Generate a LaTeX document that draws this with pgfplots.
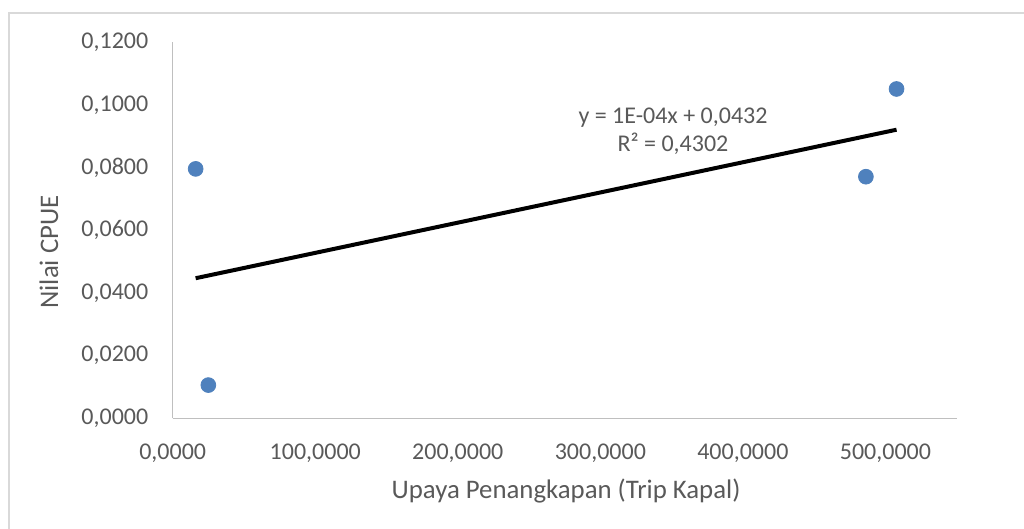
\documentclass[border=0pt]{standalone}
\usepackage{pgfplots}
\pgfplotsset{compat=1.18}
\usepackage{pgfplotstable}
\usepackage{fontspec}
\setmainfont{Carlito}

\definecolor{ptblue}{HTML}{4F81BD}
\definecolor{txtgray}{HTML}{595959}
\definecolor{axgray}{HTML}{BFBFBF}
\definecolor{framegray}{HTML}{D9D9D9}

% upaya (trip kapal) vs nilai CPUE
\pgfplotstableread{
x y
16.1 0.0796
25.0 0.0106
486.3 0.0771
507.8 0.1051
}\cpue

\begin{document}
\begin{tikzpicture}
\useasboundingbox (0,0) rectangle (512pt,264.5pt);
\draw[framegray, line width=0.75pt] (4.5pt,-5pt) rectangle (520pt,258pt);
\begin{axis}[
    at={(86.35pt,55.35pt)}, anchor=south west,
    scale only axis, width=392pt, height=188pt,
    xmin=0, xmax=550, ymin=0, ymax=0.12,
    axis lines*=left,
    axis line style={axgray, line width=0.75pt},
    xtick={0,100,200,300,400,500},
    ytick={0,0.02,0.04,0.06,0.08,0.1,0.12},
    major tick length=0pt,
    tick label style={font=\fontsize{12}{14}\selectfont, text=txtgray},
    /pgf/number format/fixed,
    /pgf/number format/fixed zerofill,
    /pgf/number format/precision=4,
    /pgf/number format/use comma,
    /pgf/number format/1000 sep={},
    /pgf/number format/assume math mode=true,
    yticklabel style={anchor=east, inner sep=0pt, xshift=-12pt},
    xticklabel style={anchor=north, inner sep=0pt, yshift=-12.5pt},
    xlabel={Upaya Penangkapan (Trip Kapal)},
    ylabel={Nilai CPUE},
    label style={font=\fontsize{13.4}{16}\selectfont, text=txtgray},
    xlabel style={at={(axis description cs:0.5017,-0.193)}, anchor=center},
    ylabel style={at={(axis description cs:-0.158,0.4423)}, anchor=center},
    clip=false,
]
\addplot[only marks, mark=*, mark size=3.7pt, mark options={fill=ptblue, draw=ptblue}] table {\cpue};
\addplot[black, line width=2pt, no marks] table[y={create col/linear regression={y=y}}] {\cpue};
\node[align=center, text=txtgray, font=\fontsize{12}{14}\selectfont] at (axis cs:351,0.0917)
    {y = 1E-04x + 0,0432\\R² = 0,4302};
\end{axis}
\end{tikzpicture}
\end{document}
